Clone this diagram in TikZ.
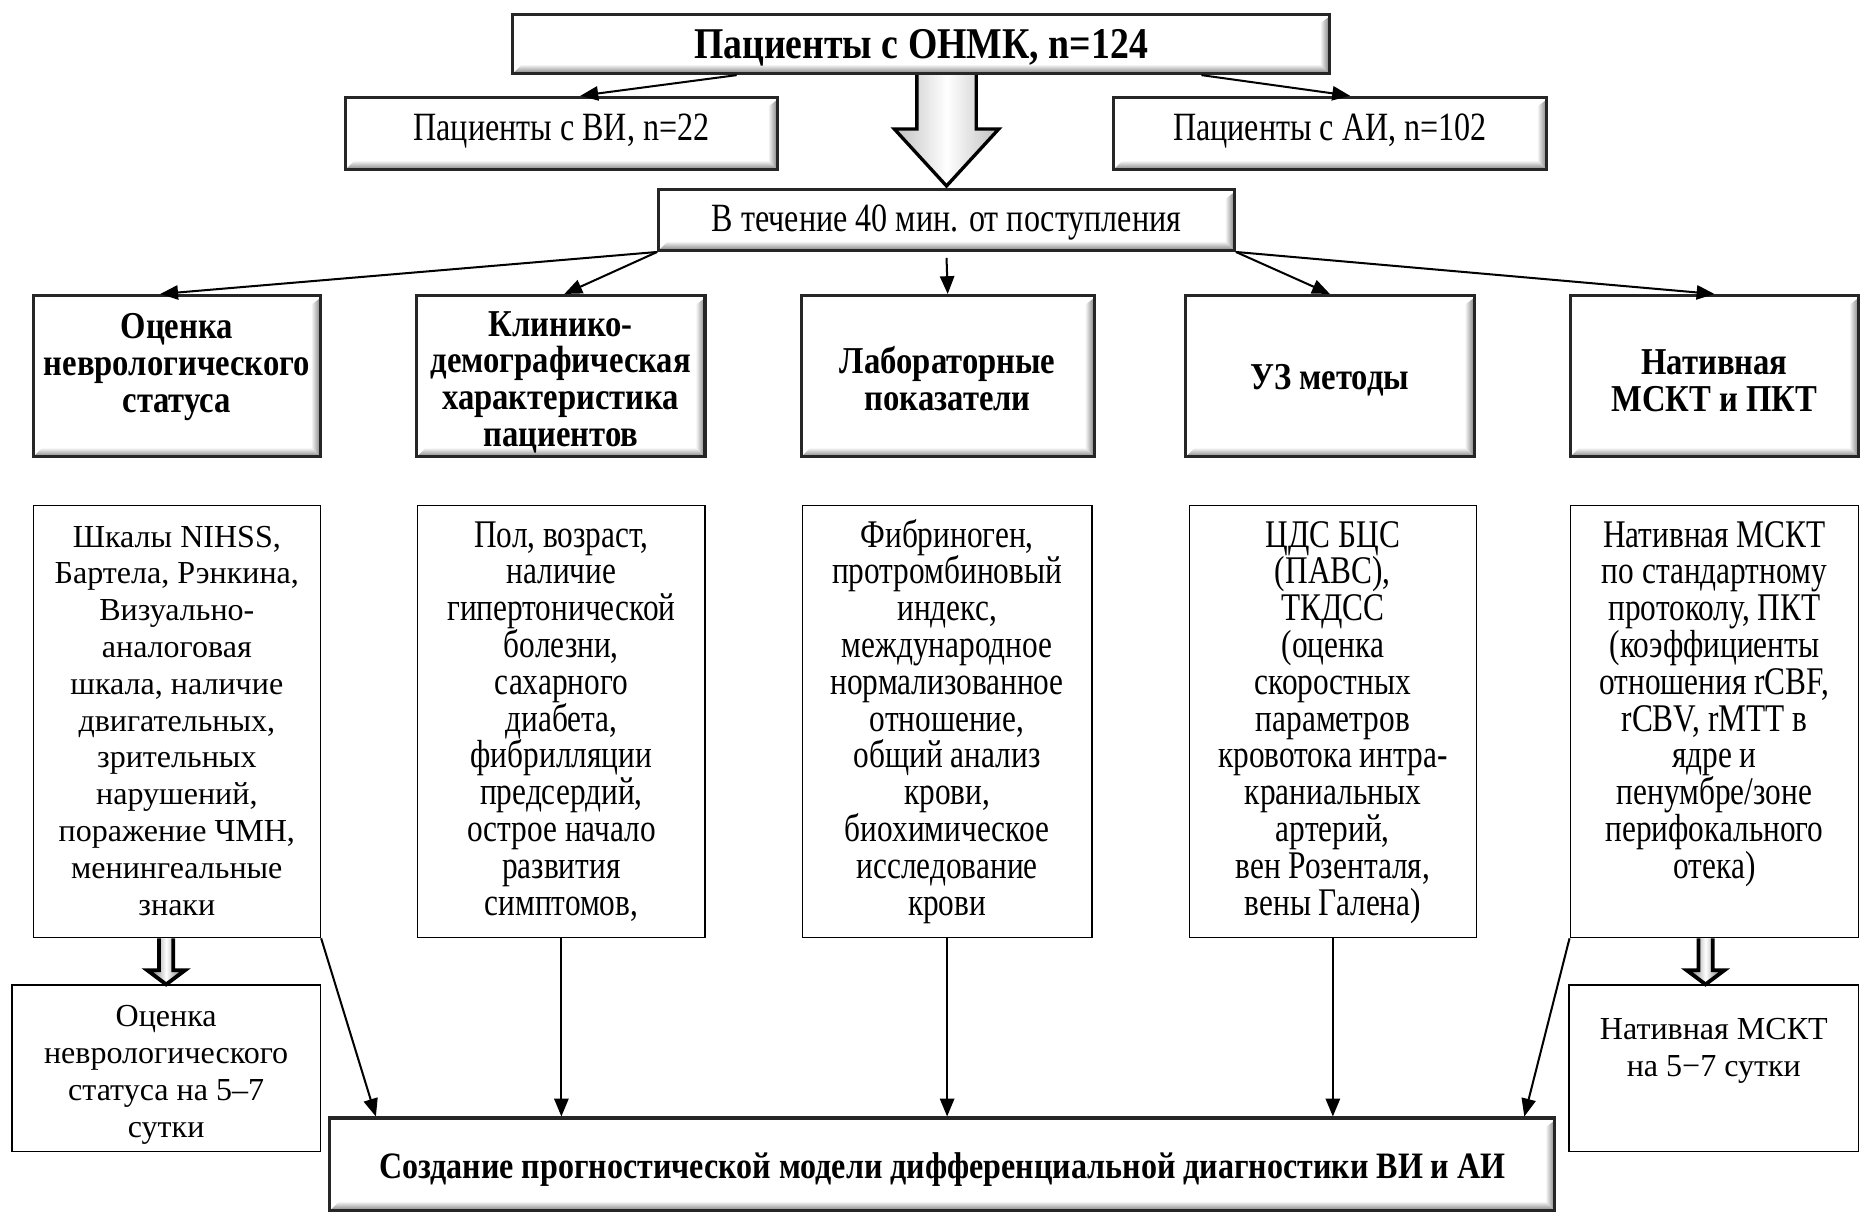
\documentclass[tikz,border=0pt]{standalone}
\usepackage{fontspec}
\setmainfont{Liberation Serif}
\newfontfamily\condfont{Liberation Serif}[FakeStretch=0.8]
\newfontfamily\hdfont{Liberation Serif}[FakeStretch=0.86]
\usetikzlibrary{calc,arrows.meta}
\newcommand\bodytxt[4]{\parbox[c][#2][t]{#1}{\centering\rule{0pt}{#3}#4\par}}
\newcommand\hdtxt[4]{\parbox[c][#2][c]{#1}{\centering\vspace*{#3}#4\par}}
\newcommand\lowered[2]{\raisebox{-#1}[\height][\depth]{#2}}
\newcommand\tightlines{\lineskiplimit=-20pt\relax}
\tikzset{
  bevel/.style={path picture={
    \coordinate (pNE) at (path picture bounding box.north east);
    \coordinate (pSE) at (path picture bounding box.south east);
    \coordinate (pSW) at (path picture bounding box.south west);
    \shade[left color=white,right color=black!50] ($(pNE)+(-4pt,-4pt)$) -- ($(pNE)+(0,-1pt)$) -- (pSE) -- ($(pSE)+(-4pt,4pt)$) -- cycle;
    \shade[top color=white,bottom color=black!50] ($(pSW)+(4pt,4pt)$) -- ($(pSE)+(-4pt,4pt)$) -- (pSE) -- (pSW) -- cycle;
  }},
  bevelbox/.style={draw=black!85, line width=1.3pt, fill=white, inner sep=0pt, align=center, bevel},
  plainbox/.style={draw=black, line width=0.6pt, fill=white, inner sep=0pt},
  arr/.style={line width=0.85pt, -{Triangle[length=7.5pt,width=6pt]}},
  hollowbig/.style={line width=1.4pt, draw=black, left color=black!25, right color=black!25, middle color=white},
  hollowsmall/.style={line width=1.6pt, draw=black, left color=black!65, right color=black!65, middle color=white},
  tfont/.style={font=\hdfont\bfseries\fontsize{18.5}{18}\selectfont},
  hfont/.style={font=\hdfont\bfseries\fontsize{16}{15.5}\selectfont\tightlines},
  bfont/.style={font=\hdfont\bfseries\fontsize{15.7}{15.5}\selectfont},
  cfont/.style={font=\condfont\fontsize{16.5}{15.5}\selectfont\tightlines},
  sfont/.style={font=\condfont\fontsize{16.9}{15.5}\selectfont},
  nfont/.style={font=\fontsize{13.5}{15.5}\selectfont\tightlines},
}
\begin{document}
\begin{tikzpicture}[x=0.5pt,y=-0.5pt]
\useasboundingbox[fill=white] (0,0) rectangle (1568,1022);

% top level
\node[bevelbox, tfont, minimum width=344pt, minimum height=25pt] (ttop) at (776,37) {\lowered{1.5pt}{Пациенты с ОНМК, n=124}};
\node[bevelbox, sfont, minimum width=182pt, minimum height=30.5pt] (vi) at (473,112.5) {\raisebox{1pt}[\height][\depth]{Пациенты с ВИ, n=22}};
\node[bevelbox, sfont, minimum width=182.5pt, minimum height=30.5pt] (ai) at (1120.5,112.5) {\raisebox{1pt}[\height][\depth]{Пациенты с АИ, n=102}};
\node[bevelbox, sfont, minimum width=242.5pt, minimum height=25.5pt] (mid) at (797.5,185.5) {\lowered{1pt}{В течение 40 мин. от поступления}};

% headers
\node[bevelbox, hfont] (h1) at (149,317) {\hdtxt{121pt}{68pt}{-8pt}{Оценка\\неврологического\\статуса}};
\node[bevelbox, hfont] (h2) at (472.5,317) {\hdtxt{121.5pt}{68pt}{5pt}{Клинико-\\демографическая\\характеристика\\пациентов}};
\node[bevelbox, hfont] (h3) at (798.5,317) {\hdtxt{123.5pt}{68pt}{2pt}{Лабораторные\\показатели}};
\node[bevelbox, hfont] (h4) at (1120.5,317) {\hdtxt{121.5pt}{68pt}{3pt}{УЗ методы}};
\node[bevelbox, hfont] (h5) at (1444.5,317) {\hdtxt{121.5pt}{68pt}{4pt}{Нативная\\МСКТ и ПКТ}};

% body boxes
\node[plainbox, nfont] (b1) at (149,608) {\bodytxt{121pt}{182pt}{17.5pt}{Шкалы NIHSS,\\Бартела, Рэнкина,\\Визуально-\\аналоговая\\шкала, наличие\\двигательных,\\зрительных\\нарушений,\\поражение ЧМН,\\менингеальные\\знаки}};
\node[plainbox, cfont] (b2) at (473,608) {\bodytxt{121pt}{182pt}{17.5pt}{Пол, возраст,\\наличие\\гипертонической\\болезни,\\сахарного\\диабета,\\фибрилляции\\предсердий,\\острое начало\\развития\\симптомов,}};
\node[plainbox, cfont] (b3) at (798,608) {\bodytxt{122pt}{182pt}{17.5pt}{Фибриноген,\\протромбиновый\\индекс,\\международное\\нормализованное\\отношение,\\общий анализ\\крови,\\биохимическое\\исследование\\крови}};
\node[plainbox, cfont] (b4) at (1123,608) {\bodytxt{121pt}{182pt}{17.5pt}{ЦДС БЦС\\(ПАВС),\\ТКДСС\\(оценка\\скоростных\\параметров\\кровотока интра-\\краниальных\\артерий,\\вен Розенталя,\\вены Галена)}};
\node[plainbox, cfont] (b5) at (1444.5,608) {\bodytxt{121.5pt}{182pt}{17.5pt}{Нативная МСКТ\\по стандартному\\протоколу, ПКТ\\(коэффициенты\\отношения rCBF,\\rCBV, rMTT в\\ядре и\\пенумбре/зоне\\перифокального\\отека)}};

% follow-up boxes
\node[plainbox, nfont] (f1) at (140,900) {\bodytxt{130pt}{70pt}{17.5pt}{Оценка\\неврологического\\статуса на 5–7\\сутки}};
\node[plainbox, nfont] (f5) at (1444,900) {\bodytxt{122pt}{70pt}{23pt}{Нативная МСКТ\\на 5−7 сутки}};

% bottom
\node[bevelbox, bfont, minimum width=516pt, minimum height=39pt] (bot) at (794,981) {\lowered{2pt}{Создание прогностической модели дифференциальной диагностики ВИ и АИ}};

% arrows top
\draw[arr] ($(ttop.south west)+(190,0)$) -- ($(vi.north)+(16,0)$);
\draw[arr] ($(ttop.south east)+(-109,0)$) -- ($(ai.north)+(17,0)$);

% big hollow arrow
\coordinate (bA) at ($(mid.north)+(-25,0)$);
\coordinate (bB) at ($(mid.north)+(25,0)$);
\draw[hollowbig] (bA |- ttop.south) -- ($(bA)+(0,-50)$) -- ($(mid.north)+(-44,-50)$) -- ($(mid.north)+(0,-2)$) -- ($(mid.north)+(44,-50)$) -- ($(bB)+(0,-50)$) -- (bB |- ttop.south);

% arrows to headers
\draw[arr] (mid.south west) -- ($(h1.north)+(-14,0)$);
\draw[arr] (mid.south west) -- ($(h2.north)+(3,0)$);
\draw[arr] ($(mid.south)+(0,5)$) -- (h3.north);
\draw[arr] (mid.south east) -- (h4.north);
\draw[arr] (mid.south east) -- (h5.north);

% small hollow arrows
\coordinate (sa) at (f1.north);
\coordinate (saL) at ($(sa)+(-6,0)$);
\coordinate (saR) at ($(sa)+(6,0)$);
\draw[hollowsmall] (saL |- b1.south) -- ($(saL)+(0,-12)$) -- ($(sa)+(-16,-12)$) -- (sa) -- ($(sa)+(16,-12)$) -- ($(saR)+(0,-12)$) -- (saR |- b1.south);
\coordinate (sb) at ($(f5.north)+(-7,0)$);
\coordinate (sbL) at ($(sb)+(-6,0)$);
\coordinate (sbR) at ($(sb)+(6,0)$);
\draw[hollowsmall] (sbL |- b5.south) -- ($(sbL)+(0,-12)$) -- ($(sb)+(-16,-12)$) -- (sb) -- ($(sb)+(16,-12)$) -- ($(sbR)+(0,-12)$) -- (sbR |- b5.south);

% arrows to bottom
\draw[arr] (b1.south east) -- ($(bot.north west)+(40,0)$);
\draw[arr] (b2.south) -- (b2.south |- bot.north);
\draw[arr] (b3.south) -- (b3.south |- bot.north);
\draw[arr] (b4.south) -- (b4.south |- bot.north);
\draw[arr] (b5.south west) -- ($(bot.north east)+(-27,0)$);
\end{tikzpicture}
\end{document}
